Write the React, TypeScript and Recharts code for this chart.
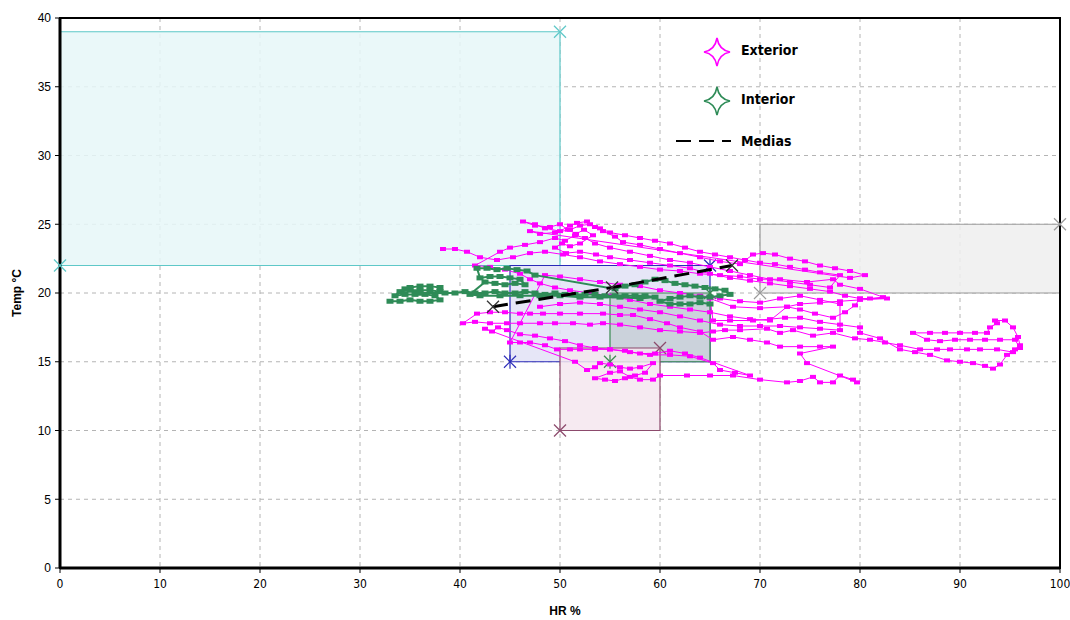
import React from "react";
import { ScatterChart, Scatter, XAxis, YAxis, CartesianGrid, ReferenceArea } from "recharts";

const hrTicks = [0, 10, 20, 30, 40, 50, 60, 70, 80, 90, 100];
const tempTicks = [0, 5, 10, 15, 20, 25, 30, 35, 40];

// comfort zones: HR from/to, Temp from/to
const zoneHrFrom = [0, 45, 55, 50, 70];
const zoneHrTo = [50, 65, 65, 60, 100];
const zoneTempFrom = [22, 15, 15, 10, 20];
const zoneTempTo = [39, 22, 20, 16, 25];

// Exterior readings (HR %, Temp °C), in the order they were logged
const extUpperA: [number, number][] = [
  [38.3, 23.2], [39.5, 23.2], [40.7, 23.0], [42.0, 22.6], [43.7, 22.4], [45.3, 22.6], [47.0, 22.9], [48.5, 23.0],
  [50.3, 22.8], [52.0, 22.6], [54.0, 22.3], [56.0, 22.1], [58.0, 21.9], [60.0, 21.7], [62.0, 21.6], [64.0, 21.4],
  [66.0, 21.3], [68.0, 21.2], [70.0, 21.0], [72.0, 21.0], [74.7, 20.8], [77.3, 21.0], [78.0, 20.6], [80.0, 20.3],
  [82.3, 19.7], [81.0, 19.6], [80.0, 19.6], [78.5, 19.8], [77.0, 20.1], [75.0, 20.3], [73.0, 20.5], [71.0, 20.7],
  [69.0, 20.9], [67.0, 21.1], [65.0, 21.4], [63.0, 21.8], [61.0, 22.0], [59.0, 22.2], [57.0, 22.4], [55.0, 22.6],
  [53.6, 22.8], [52.0, 23.0], [50.6, 22.9], [49.5, 23.3],
];
const extUpperB: [number, number][] = [
  [50.2, 23.6], [51.0, 23.4], [52.0, 23.6], [53.3, 24.2], [52.4, 24.6], [51.6, 24.3], [50.8, 24.6], [50.0, 25.0],
  [49.0, 24.8], [47.5, 24.9], [46.3, 25.2], [47.5, 25.0], [48.5, 24.7], [50.0, 24.5], [51.0, 24.9], [51.7, 25.1],
  [52.7, 25.2], [53.5, 24.8], [54.3, 24.5], [55.5, 24.1], [56.3, 23.7], [58.0, 23.5], [60.0, 23.2], [62.0, 22.9],
  [64.0, 22.6], [66.0, 22.3], [68.0, 22.1], [69.3, 22.8], [70.3, 22.9], [71.5, 22.8], [73.0, 22.5], [74.5, 22.3],
  [76.0, 22.0], [77.5, 21.8], [79.0, 21.6], [80.5, 21.3], [79.0, 21.1],
];
const extUpperC: [number, number][] = [
  [77.0, 20.4], [75.0, 20.6], [73.0, 20.8], [71.0, 21.0], [69.0, 21.3], [67.0, 21.6], [65.0, 21.9], [63.0, 22.2],
  [61.0, 22.4], [59.0, 22.7], [57.0, 23.0], [55.0, 23.3], [53.5, 23.6], [52.5, 24.0], [51.5, 24.2], [50.5, 23.8],
  [49.5, 24.0], [48.0, 23.7], [46.5, 23.5], [45.0, 23.3], [44.0, 23.0],
];
const extUpperD: [number, number][] = [
  [47.0, 24.5], [48.0, 24.3], [49.5, 24.4], [51.0, 24.6], [52.0, 24.9], [53.0, 25.0], [54.0, 24.7], [55.0, 24.4],
  [56.5, 24.2], [58.0, 24.0], [59.5, 23.8], [61.0, 23.6], [62.5, 23.3], [64.0, 23.0], [65.5, 22.8], [67.0, 22.6],
  [68.5, 22.4], [70.0, 22.2], [71.5, 22.1], [73.0, 21.9], [74.5, 21.7], [76.0, 21.5], [78.0, 21.3],
];
const extMidA: [number, number][] = [
  [41.5, 22.0], [43.0, 21.9], [44.5, 21.7], [46.0, 21.4], [47.0, 21.0], [48.0, 20.7], [49.5, 20.4], [51.0, 20.2],
  [53.0, 20.0], [55.0, 19.8], [57.0, 19.5], [59.0, 19.2], [61.0, 19.0], [63.0, 18.8], [65.0, 18.6], [67.0, 18.3],
  [69.0, 18.1], [71.0, 18.0], [72.7, 19.0], [74.0, 18.8], [75.5, 18.5], [77.3, 18.2], [78.5, 18.6], [79.5, 19.1],
  [80.0, 19.6],
];
const extMidF: [number, number][] = [
  [82.7, 19.6], [80.0, 19.5], [78.0, 19.4], [76.0, 19.3], [74.0, 19.2], [72.7, 19.0], [70.0, 18.9], [67.3, 19.0],
  [65.0, 19.6], [65.3, 18.0], [67.0, 18.0], [69.3, 18.0], [71.0, 18.1], [72.5, 18.2], [74.0, 18.2], [76.0, 17.9],
  [78.0, 17.7], [80.0, 17.5], [80.0, 17.1],
];
const extRight: [number, number][] = [
  [82.0, 16.7], [84.0, 15.9], [85.5, 15.7], [87.0, 15.5], [88.7, 15.1], [90.0, 15.0], [91.3, 14.9], [92.5, 14.7],
  [93.3, 14.5], [94.0, 14.8], [94.7, 15.5], [95.5, 15.9], [96.0, 16.2], [95.8, 16.8], [95.3, 17.5], [94.5, 18.0],
  [93.5, 18.0], [93.7, 17.8], [93.0, 17.5], [92.7, 17.1], [91.5, 17.1], [90.0, 17.1], [88.5, 17.1], [87.0, 17.1],
  [85.3, 17.1], [86.7, 16.6], [88.0, 16.5], [89.5, 16.6], [91.0, 16.6], [92.5, 16.6], [94.0, 16.6], [95.5, 16.6],
  [96.0, 16.0], [95.3, 15.7], [93.7, 15.9], [92.0, 15.9], [90.7, 15.9], [89.0, 15.9], [87.7, 15.9], [86.0, 15.9],
  [84.0, 16.2], [82.5, 16.4], [81.0, 16.6], [79.5, 16.7],
];
const extMidB: [number, number][] = [
  [77.3, 17.1], [75.3, 16.9], [73.3, 17.3], [72.0, 17.1], [70.7, 17.4], [68.0, 17.3], [66.5, 17.3], [65.3, 17.2],
  [64.0, 17.1], [62.0, 17.2], [60.0, 17.3], [58.0, 17.5], [56.0, 17.7], [54.3, 17.8], [53.0, 17.7], [51.3, 17.8],
  [49.5, 17.8], [48.0, 17.8], [46.0, 17.8], [44.7, 17.8], [43.0, 17.8], [41.5, 17.9], [40.3, 17.8],
];
const extMidC: [number, number][] = [
  [41.7, 18.5], [43.0, 18.6], [44.5, 18.6], [46.0, 18.5], [47.0, 18.5], [48.3, 18.5], [50.0, 18.5], [52.0, 18.5],
  [54.3, 18.5], [56.0, 18.4], [57.3, 18.4], [59.0, 18.1], [60.7, 17.8], [62.0, 17.5], [64.0, 17.2], [65.3, 16.6],
  [67.3, 16.8], [69.0, 16.6], [70.7, 16.4], [72.0, 16.1], [74.0, 16.1], [76.0, 16.1], [77.3, 16.1], [74.0, 15.6],
  [74.7, 14.9],
];
const extBottom: [number, number][] = [
  [79.7, 13.5], [79.3, 13.7], [78.0, 14.0], [77.3, 13.5], [76.0, 13.5], [75.3, 13.9], [74.0, 13.6], [72.7, 13.5],
  [70.0, 13.7], [67.3, 14.0], [65.0, 14.0], [62.7, 14.0], [60.0, 14.0], [59.3, 13.7], [58.0, 13.7], [57.0, 13.9],
  [56.0, 14.3], [55.0, 14.2], [53.5, 13.8], [54.5, 13.7], [55.5, 13.6], [56.5, 13.8], [57.5, 14.0], [58.5, 14.2],
  [59.3, 14.9], [58.0, 14.6], [57.0, 14.5], [56.0, 14.6], [55.0, 14.8], [54.0, 14.9], [53.5, 14.6], [52.7, 14.4],
  [51.5, 15.0],
];
const extMidD: [number, number][] = [
  [42.5, 17.4], [43.2, 17.2], [43.8, 17.5], [44.7, 17.3], [46.0, 17.0], [47.5, 16.9], [49.0, 16.7], [50.5, 16.5],
  [52.0, 16.2], [53.5, 16.0], [55.0, 15.9], [57.0, 15.7], [59.0, 15.5], [61.0, 15.5], [63.0, 15.4], [65.3, 14.9],
  [66.0, 14.4], [67.5, 14.2], [69.0, 14.0],
];
const extMidE: [number, number][] = [
  [64.0, 15.3], [62.5, 15.6], [61.0, 15.8], [59.5, 15.6], [58.0, 15.6], [56.5, 15.8], [55.0, 15.9], [53.5, 15.9],
  [52.0, 15.9], [51.0, 15.9], [49.7, 15.9], [48.5, 16.2], [47.0, 16.4], [46.0, 16.4], [45.0, 16.4],
];
const extMidG: [number, number][] = [
  [48.5, 21.3], [50.0, 21.2], [52.0, 21.0], [54.0, 20.8], [56.0, 20.6], [58.0, 20.5], [60.0, 20.2], [62.0, 20.0],
  [64.0, 19.8], [66.0, 19.6], [68.0, 19.4], [70.0, 19.3], [72.0, 19.6], [74.0, 19.8], [76.0, 19.5], [78.0, 19.2],
];
const extMidH: [number, number][] = [
  [78.0, 17.3], [76.0, 17.4], [74.0, 17.5], [72.0, 17.6], [70.0, 17.6], [68.0, 17.6], [66.0, 17.7], [64.0, 18.0],
  [62.0, 18.3], [60.0, 18.6], [58.0, 18.8], [56.0, 19.0], [54.0, 19.2], [52.0, 19.3], [50.0, 19.2], [48.0, 19.0],
];

// Interior readings
const intLeft: [number, number][] = [
  [33.0, 19.4], [34.0, 19.4], [35.0, 19.5], [36.0, 19.4], [37.0, 19.4], [38.0, 19.5], [37.5, 19.8], [36.5, 19.9],
  [35.5, 19.9], [34.5, 19.9], [33.5, 19.8], [34.0, 20.1], [35.0, 20.2], [36.0, 20.2], [37.0, 20.2], [38.0, 20.1],
  [38.0, 20.4], [37.0, 20.5], [36.0, 20.5], [35.0, 20.4], [34.5, 20.3], [36.0, 20.0], [38.5, 20.0],
];
const intBand: [number, number][] = [
  [39.5, 20.0], [40.5, 20.1], [41.5, 20.0], [42.5, 20.0], [43.5, 20.1], [44.5, 20.0], [45.5, 20.0], [46.5, 20.1],
  [47.5, 20.0], [48.5, 19.9], [49.5, 20.0], [50.5, 19.9], [51.5, 19.9], [52.5, 19.9], [53.5, 19.9], [54.5, 19.8],
  [55.5, 19.8], [56.5, 19.8], [57.5, 19.8], [58.5, 19.8], [59.5, 19.7], [58.0, 19.6], [56.0, 19.7], [54.0, 19.7],
  [52.0, 19.7], [50.0, 19.8], [48.0, 19.8], [46.0, 19.8], [44.0, 19.8], [42.0, 19.8], [41.0, 19.9],
];
const intUpper: [number, number][] = [
  [42.5, 20.8], [43.5, 20.7], [44.5, 20.6], [45.5, 20.7], [46.5, 20.6], [46.0, 21.0], [45.0, 21.1], [44.0, 21.2],
  [43.0, 21.2], [42.0, 21.1], [41.7, 21.8], [42.7, 21.8], [43.7, 21.7], [44.7, 21.8], [45.7, 21.7], [46.7, 21.6],
  [47.5, 21.3],
];
const intRight: [number, number][] = [
  [55.5, 20.3], [56.5, 20.5], [57.5, 20.6], [58.5, 20.8], [59.5, 21.0], [60.5, 20.9], [61.5, 20.7], [62.5, 20.6],
  [63.5, 20.5], [64.5, 20.4], [65.5, 20.3], [66.5, 20.2], [67.0, 19.9], [66.0, 19.8], [65.0, 19.7], [64.0, 19.7],
  [63.0, 19.8], [62.0, 19.7], [61.0, 19.6], [60.0, 19.4], [61.0, 19.2], [62.0, 19.2], [63.0, 19.2], [64.0, 19.3],
  [65.0, 19.2],
];

const mediasHr = [43.3, 55.2, 67.2];
const mediasTemp = [19.0, 20.4, 22.0];

const toPts = (arr: [number, number][]) => arr.map(([hr, t]) => ({ hr, t }));
const exterior = toPts([
  ...extUpperA, ...extUpperB, ...extUpperD, ...extUpperC, ...extMidA, ...extMidF, ...extRight,
  ...extMidB, ...extMidC, ...extBottom, ...extMidD, ...extMidE, ...extMidG, ...extMidH,
]);
const interior = toPts([...intLeft, ...intBand, ...intUpper, ...intRight]);
const medias = mediasHr.map((hr, i) => ({ hr, t: mediasTemp[i] }));

const zoneStyles = [
  { fill: "#e6f7f8", stroke: "#5ec8c8" },
  { fill: "#e2e2f6", stroke: "#2a2ab8" },
  { fill: "#c6ced6", stroke: "#3a8a50" },
  { fill: "#f4e6ee", stroke: "#8c4a6c" },
  { fill: "#efefef", stroke: "#9a9a9a" },
];

const zones = zoneHrFrom.map((x1, i) => ({
  x1, x2: zoneHrTo[i], y1: zoneTempFrom[i], y2: zoneTempTo[i], ...zoneStyles[i],
}));

const ExtMark = (p: any) => <rect x={p.cx - 3} y={p.cy - 2} width={6} height={4} fill="#ff00ff" />;
const IntMark = (p: any) => <rect x={p.cx - 3.5} y={p.cy - 2.5} width={7} height={5} fill="#2e8b57" />;

const cross = (color: string, star = false) => (p: any) => (
  <g stroke={color} strokeWidth={1.2}>
    <line x1={p.cx - 6} y1={p.cy - 6} x2={p.cx + 6} y2={p.cy + 6} />
    <line x1={p.cx - 6} y1={p.cy + 6} x2={p.cx + 6} y2={p.cy - 6} />
    {star && <line x1={p.cx} y1={p.cy - 7} x2={p.cx} y2={p.cy + 7} />}
  </g>
);

const Star = ({ color }: { color: string }) => (
  <svg width={30} height={30} viewBox="-15 -15 30 30">
    <path d="M0,-14 Q2,-2 13,0 Q2,2 0,14 Q-2,2 -13,0 Q-2,-2 0,-14 Z" fill="#fff" stroke={color} strokeWidth={1.6} />
  </svg>
);

const legendText: React.CSSProperties = {
  fontFamily: "'Liberation Sans Narrow', 'DejaVu Sans Condensed', sans-serif",
  fontWeight: "bold",
  fontSize: 14,
  position: "absolute",
  left: 741,
};

export default function App() {
  return (
    <div style={{ position: "relative", width: 1070, height: 620, background: "#fff" }}>
      <style>{"body{margin:0}"}</style>
      <ScatterChart width={1070} height={620} margin={{ top: 18, right: 10, bottom: 0, left: 0 }}>
        {zones.map((z, i) => (
          <ReferenceArea key={i} x1={z.x1} x2={z.x2} y1={z.y1} y2={z.y2} fill={z.fill} fillOpacity={0.85} stroke={z.stroke} strokeWidth={1.2} />
        ))}
        <CartesianGrid stroke="#b4b4b4" strokeDasharray="4 4" />
        <XAxis
          type="number"
          dataKey="hr"
          domain={[0, 100]}
          ticks={hrTicks}
          height={52}
          tickSize={5}
          tickMargin={6}
          axisLine={{ stroke: "#000", strokeWidth: 3 }}
          tickLine={{ stroke: "#000" }}
          tick={{ fill: "#000", fontSize: 12, fontFamily: "'Liberation Sans Narrow', 'DejaVu Sans Condensed', sans-serif" }}
        />
        <YAxis
          type="number"
          dataKey="t"
          domain={[0, 40]}
          ticks={tempTicks}
          width={60}
          tickSize={5}
          tickMargin={4}
          axisLine={{ stroke: "#000", strokeWidth: 3 }}
          tickLine={{ stroke: "#000" }}
          tick={{ fill: "#000", fontSize: 12, fontFamily: "'Liberation Sans', Arial, sans-serif" }}
        />
        {zones.map((z, i) => (
          <Scatter
            key={"c" + i}
            data={[{ hr: z.x1, t: z.y1 }, { hr: z.x2, t: z.y2 }]}
            shape={cross(z.stroke, i === 1 || i === 2)}
            isAnimationActive={false}
          />
        ))}
        <Scatter data={exterior} shape={ExtMark} line={{ stroke: "#ff00ff", strokeWidth: 1 }} isAnimationActive={false} />
        <Scatter data={interior} shape={IntMark} line={{ stroke: "#2e8b57", strokeWidth: 2 }} isAnimationActive={false} />
        <Scatter
          data={medias}
          shape={cross("#333")}
          line={{ stroke: "#000", strokeWidth: 3, strokeDasharray: "15 8" }}
          isAnimationActive={false}
        />
        <ReferenceArea x1={0} x2={100} y1={0} y2={40} fill="none" stroke="#000" strokeWidth={2} />
      </ScatterChart>

      <div style={{ position: "absolute", left: 702, top: 37 }}><Star color="#ff00ff" /></div>
      <div style={{ ...legendText, top: 42 }}>Exterior</div>
      <div style={{ position: "absolute", left: 702, top: 86 }}><Star color="#2e8b57" /></div>
      <div style={{ ...legendText, top: 91 }}>Interior</div>
      <svg style={{ position: "absolute", left: 674, top: 136 }} width={60} height={10}>
        <line x1={2} y1={5} x2={57} y2={5} stroke="#000" strokeWidth={2} strokeDasharray="15 8" />
      </svg>
      <div style={{ ...legendText, top: 133 }}>Medias</div>

      <div
        style={{
          position: "absolute", left: 0, top: 604, width: 1130, textAlign: "center",
          fontFamily: "'Liberation Sans', Arial, sans-serif", fontWeight: "bold", fontSize: 12,
        }}
      >
        HR %
      </div>
      <div
        style={{
          position: "absolute", left: 17, top: 293, transform: "translate(-50%, -50%) rotate(-90deg)",
          fontFamily: "'Liberation Sans', Arial, sans-serif", fontWeight: "bold", fontSize: 12, whiteSpace: "nowrap",
        }}
      >
        Temp °C
      </div>
    </div>
  );
}
